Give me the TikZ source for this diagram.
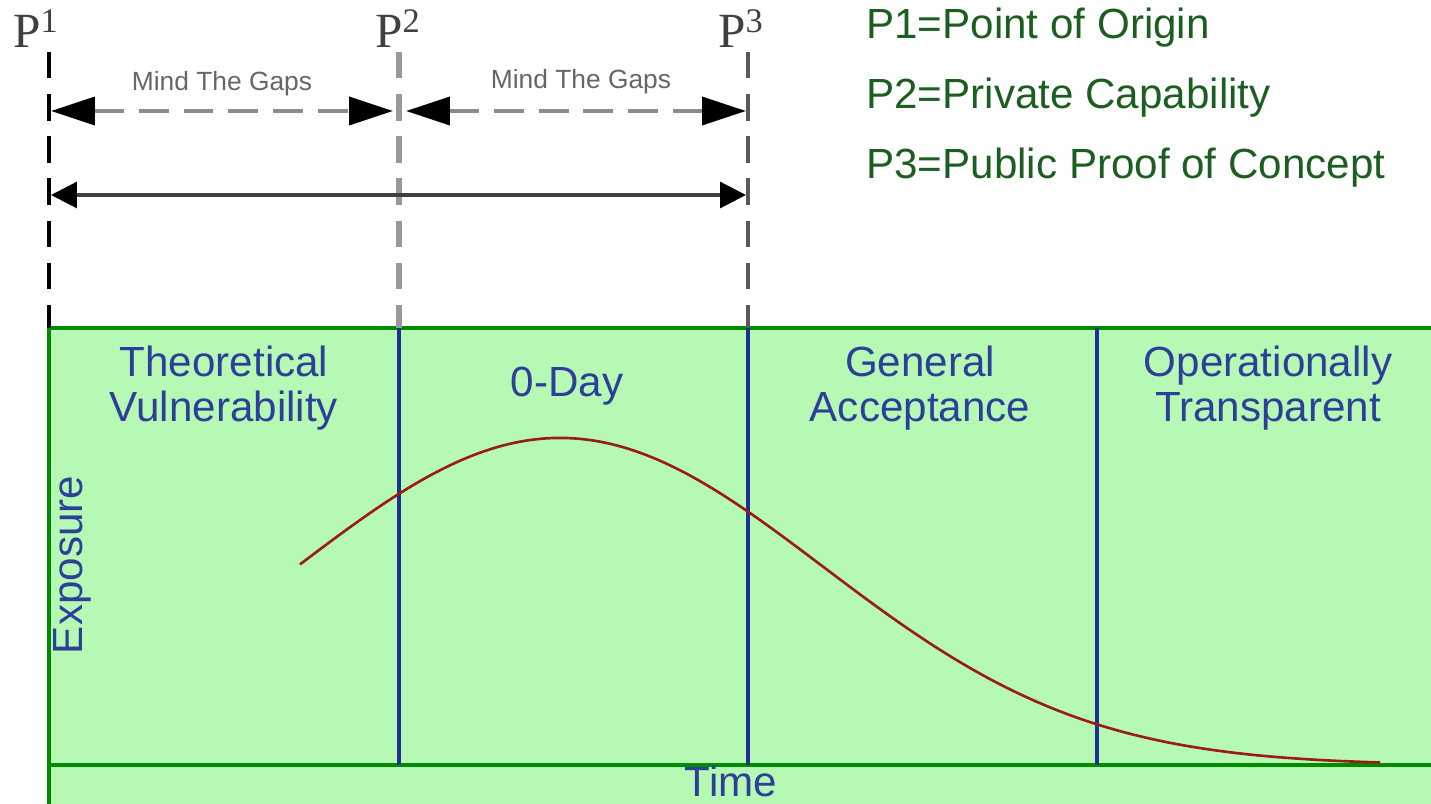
\documentclass[tikz,border=0pt]{standalone}
\usepackage{fontspec}
\setmainfont{Liberation Sans}
\newfontfamily\pfont{Liberation Serif}
\usetikzlibrary{arrows.meta}

\definecolor{zonegreen}{HTML}{B5F9B5}
\definecolor{edgegreen}{HTML}{008C00}
\definecolor{phaseblue}{HTML}{1F2F96}
\definecolor{labelblue}{HTML}{2D3F98}
\definecolor{curvered}{HTML}{9A1C12}
\definecolor{legendgreen}{HTML}{1B5E20}

\begin{document}
\begin{tikzpicture}[
  x=0.02cm, y=-0.02cm,
  phase/.style={text=labelblue, font=\fontsize{24}{26}\selectfont, align=center, inner sep=0pt},
  plabel/.style={text=black!75, font=\pfont\fontsize{28}{30}\selectfont, inner sep=0pt, anchor=base west},
  legend/.style={text=legendgreen, font=\fontsize{24}{26}\selectfont, anchor=west, inner sep=0pt},
  gaptext/.style={text=black!60, font=\fontsize{15}{17}\selectfont, inner sep=0pt},
  marker/.style={line width=2pt, dash pattern=on 15pt off 9pt},
  gaparrow/.style={draw=black!45, line width=2.2pt, dash pattern=on 17pt off 8.5pt,
    {Triangle[length=0.88cm, width=0.56cm, black]}-{Triangle[length=0.88cm, width=0.56cm, black]}},
  spanarrow/.style={draw=black!75, line width=1.8pt,
    {Triangle[length=0.52cm, width=0.52cm, black]}-{Triangle[length=0.52cm, width=0.52cm, black]}},
  divider/.style={draw=phaseblue, line width=2pt}
]
  \clip (0,0) rectangle (1431,804);
  \useasboundingbox (0,0) rectangle (1431,804);

  % green exposure area
  \draw[fill=zonegreen, draw=edgegreen, line width=2.2pt] (49,328) rectangle (1445,820);
  \coordinate (tl) at (49,765);
  \coordinate (tr) at (1445,765);
  \draw[edgegreen, line width=2.2pt] (tl) -- (tr);

  % phase dividers
  \foreach \px/\nm in {399/a, 748/b, 1097/c} {
    \coordinate (d\nm top) at (\px,328);
    \coordinate (d\nm bot) at (\px,765);
    \draw[divider] (d\nm top) -- (d\nm bot);
  }

  % exposure curve
  \draw[curvered, line width=1.5pt] plot[domain=300:1380, samples=120, smooth]
    (\x, {765-327*exp(-0.5*((\x-560)/263)^2)});

  % phase names
  \node[phase] (theo) at (224,388) {Theoretical\\Vulnerability};
  \node[phase] (zday) at (567,386) {0-Day};
  \node[phase] (gen) at (920,388) {General\\Acceptance};
  \node[phase] (oper) at (1268,388) {Operationally\\Transparent};
  \node[phase, rotate=90] (expo) at (72,565) {Exposure};
  \node[phase] (time) at (731,781) {Time};

  % points
  \node[plabel] (p1) at (13,48) {P\textsuperscript{1}};
  \node[plabel] (p2) at (375,48) {P\textsuperscript{2}};
  \node[plabel] (p3) at (718,48) {P\textsuperscript{3}};

  \coordinate (p1top) at (49,52);  \coordinate (p1bot) at (49,328);
  \coordinate (p2top) at (399,52); \coordinate (p2bot) at (399,328);
  \coordinate (p3top) at (748,52); \coordinate (p3bot) at (748,328);
  \draw[marker, black] (p1top) -- (p1bot);
  \draw[marker, black!40, line width=3.4pt] (p2top) -- (p2bot);
  \draw[marker, black!65, line width=2.6pt] (p3top) -- (p3bot);

  % gaps
  \coordinate (g1l) at (51,111);  \coordinate (g1r) at (393,111);
  \coordinate (g2l) at (406,111); \coordinate (g2r) at (746,111);
  \draw[gaparrow] (g1l) -- (g1r);
  \draw[gaparrow] (g2l) -- (g2r);
  \node[gaptext] (gap1) at (222,84) {Mind The Gaps};
  \node[gaptext] (gap2) at (581,82) {Mind The Gaps};

  \coordinate (sl) at (51,195); \coordinate (sr) at (746,195);
  \draw[spanarrow] (sl) -- (sr);

  % legend
  \node[legend] (leg1) at (866,28) {P1=Point of Origin};
  \node[legend] (leg2) at (866,98) {P2=Private Capability};
  \node[legend] (leg3) at (866,168) {P3=Public Proof of Concept};

\end{tikzpicture}
\end{document}
